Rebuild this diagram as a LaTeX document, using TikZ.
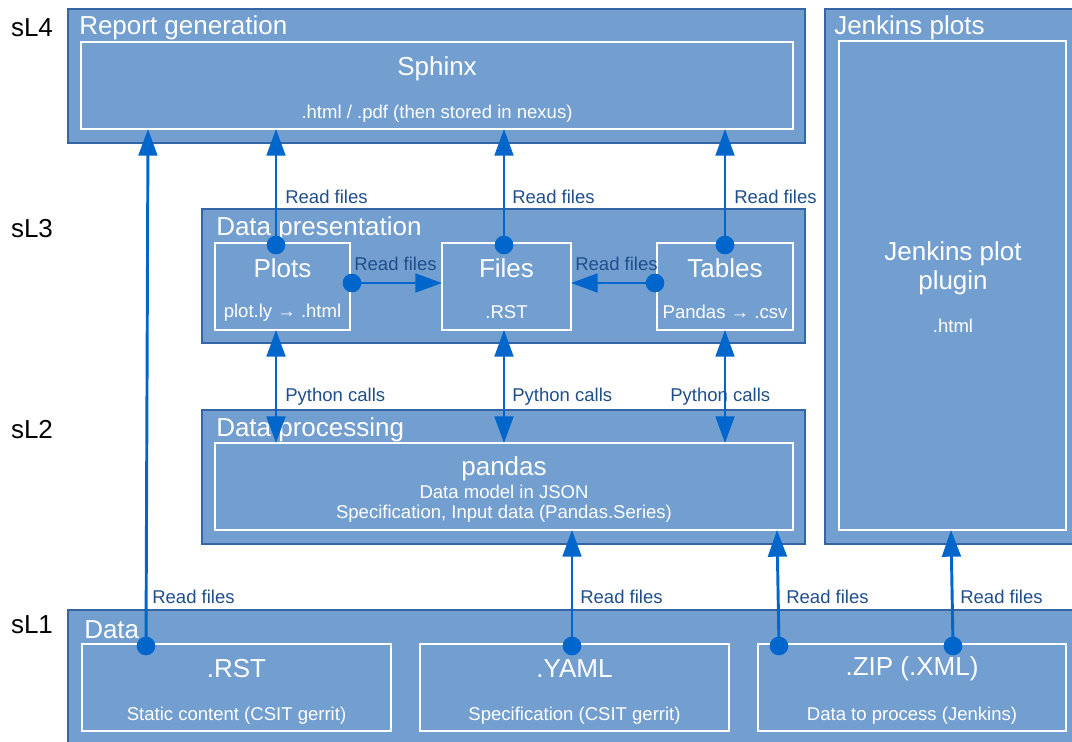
\documentclass[tikz,border=0pt]{standalone}
\usepackage{fontspec}
\setmainfont{Liberation Sans}
\usetikzlibrary{arrows.meta}
\definecolor{boxfill}{HTML}{729FCF}
\definecolor{boxline}{HTML}{3465A4}
\definecolor{arrowc}{HTML}{0066CC}
\definecolor{labelc}{HTML}{1F4E8C}
\tikzset{
 outerbox/.style={draw=boxline, fill=boxfill, line width=1.1pt, inner sep=0pt, outer sep=0pt},
 innerbox/.style={draw=white, line width=0.9pt, inner sep=0pt, outer sep=0pt},
 sz/.style 2 args={minimum width=#1*0.75pt, minimum height=#2*0.75pt},
 big/.style={text=white, font=\fontsize{19.5}{22}\selectfont, inner sep=0pt, yshift=-1.8pt},
 small/.style={text=white, font=\fontsize{13.9}{16}\selectfont, inner sep=0pt, yshift=-1pt},
 title/.style={big, anchor=west},
 level/.style={text=black, font=\fontsize{19.5}{22}\selectfont, inner sep=0pt, yshift=-1.8pt},
 lbl/.style={text=labelc, font=\fontsize{13.9}{16}\selectfont, inner sep=0pt, anchor=west, yshift=-0.8pt},
 flow/.style={draw=arrowc, line width=2.2pt, -{Triangle[length=20pt,width=14pt]}},
 twoway/.style={draw=arrowc, line width=2.2pt, {Triangle[length=20pt,width=14pt]}-{Triangle[length=20pt,width=14pt]}},
 dotc/.style={fill=arrowc},
}
\begin{document}
\begin{tikzpicture}[x=0.75pt,y=-0.75pt]
\useasboundingbox (0,0) rectangle (1072,742);
\clip (0,0) rectangle (1072,742);

% level labels
\node[level] (l4) at (32,25) {sL4};
\node[level] (l3) at (32,226) {sL3};
\node[level] (l2) at (32,427) {sL2};
\node[level] (l1) at (32,622) {sL1};

% outer boxes
\node[outerbox, sz={737}{134}] (rep) at (436.5,76) {};
\node[outerbox, sz={260}{535}] (jen) at (955,276.5) {};
\node[outerbox, sz={603}{134}] (pres) at (503.5,276) {};
\node[outerbox, sz={603}{134}] (proc) at (503.5,477) {};
\node[outerbox, sz={1017}{145}] (data) at (576.5,682.5) {};

% titles
\node[title] (trep) at (79,25) {Report generation};
\node[title] (tjen) at (834,25) {Jenkins plots};
\node[title] (tpres) at (216,226) {Data presentation};
\node[title] (tproc) at (216,427) {Data processing};
\node[title] (tdata) at (84,627) {Data};

% inner boxes
\node[innerbox, sz={712}{87}] (sphinx) at (437,85.5) {};
\node[innerbox, sz={227}{489}] (jplug) at (952.5,285.5) {};
\node[innerbox, sz={135}{87}] (plots) at (282.5,286.5) {};
\node[innerbox, sz={129}{87}] (files) at (506.5,286.5) {};
\node[innerbox, sz={136}{87}] (tables) at (725,286.5) {};
\node[innerbox, sz={578}{87}] (pandas) at (504,486.5) {};
\node[innerbox, sz={309}{87}] (rst) at (236.5,687.5) {};
\node[innerbox, sz={309}{87}] (yaml) at (574.5,687.5) {};
\node[innerbox, sz={308}{87}] (zip) at (912,687.5) {};

% inner texts
\node[big] (sphinxt) at (437,66) {Sphinx};
\node[small] (sphinxs) at (437,112) {.html / .pdf (then stored in nexus)};
\node[big, align=center] (jplugt) at (953,266) {Jenkins plot\\plugin};
\node[small] (jplugs) at (953,325) {.html};
\node[big] (plotst) at (282.5,266) {Plots};
\node[small] (plotss) at (282.5,311) {plot.ly → .html};
\node[big] (filest) at (506.5,266) {Files};
\node[small] (filess) at (506.5,311) {.RST};
\node[big] (tablest) at (725,266) {Tables};
\node[small] (tabless) at (725,311) {Pandas → .csv};
\node[big] (pandast) at (504,466) {pandas};
\node[small] (pandas1) at (504,491) {Data model in JSON};
\node[small] (pandas2) at (504,512) {Specification, Input data (Pandas.Series)};
\node[big] (rstt) at (236.5,666) {.RST};
\node[small] (rsts) at (236.5,714) {Static content (CSIT gerrit)};
\node[big] (yamlt) at (574.5,666) {.YAML};
\node[small] (yamls) at (574.5,714) {Specification (CSIT gerrit)};
\node[big] (zipt) at (912,666) {.ZIP (.XML)};
\node[small] (zips) at (912,714) {Data to process (Jenkins)};

% helper coordinates for connector positions
\coordinate (xA) at (146,0);
\coordinate (xAt) at (148,0);
\coordinate (xP) at (276,0);
\coordinate (xF) at (504,0);
\coordinate (xT) at (725,0);
\coordinate (xY) at (572,0);
\coordinate (xZ) at (779,0);
\coordinate (xZt) at (777,0);
\coordinate (xJ) at (953,0);
\coordinate (xJt) at (951,0);
\coordinate (yM) at (0,283);

% connectors
\draw[flow] ([yshift=-1.5pt]xA |- rst.north) -- (xAt |- sphinx.south);
\draw[flow] ([yshift=-1.5pt]xP |- plots.north) -- (xP |- sphinx.south);
\draw[flow] ([yshift=-1.5pt]xF |- files.north) -- (xF |- sphinx.south);
\draw[flow] ([yshift=-1.5pt]xT |- tables.north) -- (xT |- sphinx.south);
\draw[flow] ([xshift=1.5pt]plots.east |- yM) -- (files.west |- yM);
\draw[flow] ([xshift=-1.5pt]tables.west |- yM) -- (files.east |- yM);
\draw[twoway] (xP |- plots.south) -- (xP |- pandas.north);
\draw[twoway] (xF |- files.south) -- (xF |- pandas.north);
\draw[twoway] (xT |- tables.south) -- (xT |- pandas.north);
\draw[flow] ([yshift=-1.5pt]xY |- yaml.north) -- (xY |- pandas.south);
\draw[flow] ([yshift=-1.5pt]xZ |- zip.north) -- (xZt |- pandas.south);
\draw[flow] ([yshift=-1.5pt]xJ |- zip.north) -- (xJt |- jplug.south);

% dots
\fill[dotc] ([yshift=-1.5pt]xA |- rst.north) circle (7pt);
\fill[dotc] ([yshift=-1.5pt]xP |- plots.north) circle (7pt);
\fill[dotc] ([yshift=-1.5pt]xF |- files.north) circle (7pt);
\fill[dotc] ([yshift=-1.5pt]xT |- tables.north) circle (7pt);
\fill[dotc] ([xshift=1.5pt]plots.east |- yM) circle (7pt);
\fill[dotc] ([xshift=-1.5pt]tables.west |- yM) circle (7pt);
\fill[dotc] ([yshift=-1.5pt]xY |- yaml.north) circle (7pt);
\fill[dotc] ([yshift=-1.5pt]xZ |- zip.north) circle (7pt);
\fill[dotc] ([yshift=-1.5pt]xJ |- zip.north) circle (7pt);

% connector labels
\node[lbl] (r1) at (285,196) {Read files};
\node[lbl] (r2) at (512,196) {Read files};
\node[lbl] (r3) at (734,196) {Read files};
\node[lbl] (r4) at (354,263) {Read files};
\node[lbl] (r5) at (575,263) {Read files};
\node[lbl] (p1) at (285,396) {Python calls};
\node[lbl] (p2) at (512,396) {Python calls};
\node[lbl] (p3) at (670,396) {Python calls};
\node[lbl] (r6) at (152,596) {Read files};
\node[lbl] (r7) at (580,596) {Read files};
\node[lbl] (r8) at (786,596) {Read files};
\node[lbl] (r9) at (960,596) {Read files};
\end{tikzpicture}
\end{document}
